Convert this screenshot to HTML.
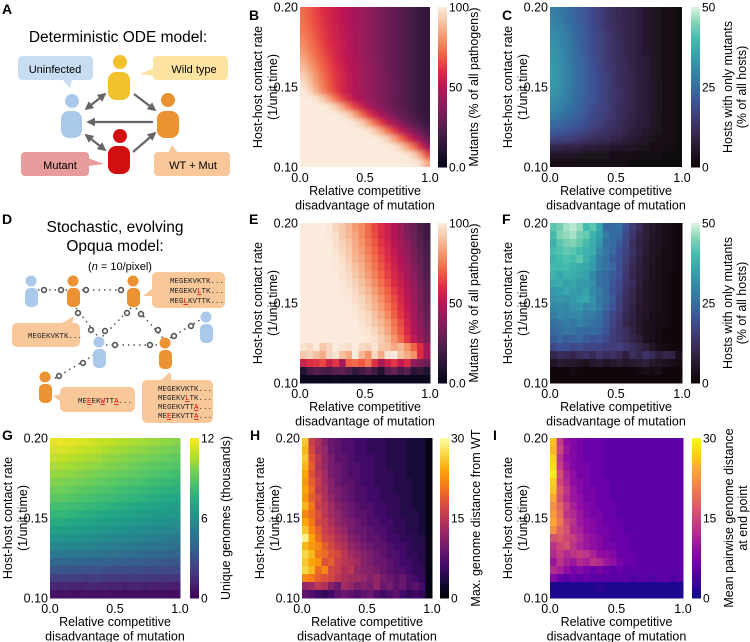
<!DOCTYPE html>
<html><head><meta charset="utf-8"><style>
html,body{margin:0;padding:0;background:#fff;}
svg{display:block;font-family:"Liberation Sans",sans-serif;}
.mono{font-family:"Liberation Mono",monospace;}
</style></head><body>
<svg id="fig" width="750" height="642" viewBox="0 0 750 642" xmlns="http://www.w3.org/2000/svg">
<defs>
<marker id="ah" viewBox="0 0 10 10" refX="8" refY="5" markerWidth="4" markerHeight="4" orient="auto-start-reverse"><path d="M0,0L10,5L0,10z" fill="#666"/></marker>
<filter id="smooth" x="-0.2" y="-0.2" width="1.4" height="1.4"><feGaussianBlur stdDeviation="2.5"/></filter>
<clipPath id="clipB"><rect x="300" y="7" width="130" height="160"/></clipPath>
<clipPath id="clipC"><rect x="550" y="7" width="132" height="160"/></clipPath>
</defs>
<!-- Panel A -->
<g>
<text x="2" y="14" font-size="14" font-weight="bold">A</text>
<text x="118" y="42" font-size="15.5" text-anchor="middle">Deterministic ODE model:</text>
<g><rect x="18" y="56" width="75" height="24" rx="4" fill="#c9ddf2"/><path d="M62,79 L72,79 L70,88z" fill="#c9ddf2"/><text x="55" y="73" font-size="11" text-anchor="middle">Uninfected</text></g>
<g><rect x="153" y="56" width="75" height="24" rx="4" fill="#fde3a2"/><path d="M154,68 L154,76 L140,74z" fill="#fde3a2"/><text x="194" y="73" font-size="11" text-anchor="middle">Wild type</text></g>
<g><rect x="21" y="152" width="68" height="24" rx="4" fill="#e89b9b"/><path d="M88,158 L88,166 L104,164z" fill="#e89b9b"/><text x="60" y="169" font-size="11" text-anchor="middle">Mutant</text></g>
<g><rect x="154" y="152" width="76" height="24" rx="4" fill="#f8c89b"/><path d="M168,153 L178,153 L172,145z" fill="#f8c89b"/><text x="193" y="169" font-size="11" text-anchor="middle">WT + Mut</text></g>
<g fill="#a9c8ea"><circle cx="72" cy="101" r="7"/><rect x="61" y="111" width="21" height="27" rx="8"/></g>
<g fill="#f2c12e"><circle cx="120" cy="62" r="7"/><rect x="108" y="72" width="22" height="28" rx="8"/></g>
<g fill="#eb9232"><circle cx="168" cy="100" r="7"/><rect x="157" y="111" width="22" height="27" rx="8"/></g>
<g fill="#d20f0f"><circle cx="120" cy="136" r="7"/><rect x="108" y="146" width="22" height="28" rx="8"/></g>
<g stroke="#666" stroke-width="2.2" fill="none">
<line x1="105" y1="94" x2="86" y2="109" marker-start="url(#ah)" marker-end="url(#ah)"/>
<line x1="86" y1="135" x2="105" y2="150" marker-start="url(#ah)" marker-end="url(#ah)"/>
<line x1="134" y1="94" x2="155" y2="110" marker-end="url(#ah)"/>
<line x1="133" y1="152" x2="155" y2="133" marker-end="url(#ah)"/>
<line x1="153" y1="122" x2="88" y2="122" marker-end="url(#ah)"/>
</g>
</g>
<!-- Panel D -->
<g>
<text x="2" y="224" font-size="14" font-weight="bold">D</text>
<text x="115" y="232" font-size="15.5" text-anchor="middle">Stochastic, evolving</text>
<text x="115" y="251" font-size="15.5" text-anchor="middle">Opqua model:</text>
<text x="120" y="270" font-size="11" text-anchor="middle">(<tspan font-style="italic">n</tspan> = 10/pixel)</text>
<g stroke="#555" stroke-width="1.6" stroke-dasharray="1.5 4" fill="none">
<line x1="38" y1="290" x2="68" y2="290"/><line x1="82" y1="290" x2="126" y2="290"/>
<line x1="76" y1="308" x2="99" y2="338"/><line x1="131" y1="308" x2="101" y2="338"/>
<line x1="136" y1="308" x2="163" y2="338"/><line x1="106" y1="345" x2="158" y2="345"/>
<line x1="170" y1="338" x2="200" y2="320"/><line x1="94" y1="355" x2="52" y2="380"/>
</g>
<g fill="#fff" stroke="#555" stroke-width="1.6">
<circle cx="44" cy="290" r="2.4"/><circle cx="61" cy="290" r="2.4"/><circle cx="86" cy="290" r="2.4"/><circle cx="121" cy="290" r="2.4"/>
<circle cx="78" cy="313" r="2.4"/><circle cx="91" cy="330" r="2.4"/><circle cx="105" cy="331" r="2.4"/><circle cx="127" cy="313" r="2.4"/>
<circle cx="141" cy="314" r="2.4"/><circle cx="115" cy="345" r="2.4"/><circle cx="150" cy="345" r="2.4"/><circle cx="191" cy="326" r="2.4"/><circle cx="174" cy="336" r="2.4"/>
<circle cx="83" cy="363" r="2.4"/><circle cx="59" cy="376" r="2.4"/><circle cx="158" cy="330" r="2.4"/>
</g>
<g fill="#a9c8ea"><circle cx="31" cy="281" r="5.5"/><rect x="25" y="288" width="13" height="19" rx="5"/></g>
<g fill="#eb9232"><circle cx="73" cy="281" r="5.5"/><rect x="67" y="288" width="13" height="19" rx="5"/></g>
<g fill="#eb9232"><circle cx="133" cy="281" r="5.5"/><rect x="127" y="288" width="13" height="19" rx="5"/></g>
<g fill="#a9c8ea"><circle cx="206" cy="317" r="5.5"/><rect x="200" y="324" width="13" height="19" rx="5"/></g>
<g fill="#a9c8ea"><circle cx="99" cy="342" r="5.5"/><rect x="93" y="349" width="13" height="19" rx="5"/></g>
<g fill="#eb9232"><circle cx="165" cy="343" r="5.5"/><rect x="159" y="350" width="13" height="19" rx="5"/></g>
<g fill="#eb9232"><circle cx="45" cy="377" r="5.5"/><rect x="39" y="384" width="13" height="19" rx="5"/></g>
<g class="mono" font-size="7.5" fill="#222">
<g><rect x="152" y="272" width="73" height="36" rx="5" fill="#f8c89b"/><path d="M153,288 L153,296 L143,296z" fill="#f8c89b"/>
<text x="170" y="283">MEGEKVKTK...</text><text x="170" y="293">MEGEKV<tspan fill="#d00" text-decoration="underline">L</tspan>TK...</text><text x="170" y="303">MEG<tspan fill="#d00" text-decoration="underline">L</tspan>KVTTK...</text></g>
<g><rect x="12" y="323" width="68" height="24" rx="5" fill="#f8c89b"/><path d="M60,324 L72,324 L74,316z" fill="#f8c89b"/><text x="28" y="338">MEGEKVKTK...</text></g>
<g><rect x="60" y="387" width="75" height="25" rx="5" fill="#f8c89b"/><path d="M61,394 L61,402 L53,396z" fill="#f8c89b"/><text x="78" y="403">ME<tspan fill="#d00" text-decoration="underline">E</tspan>EK<tspan fill="#d00" text-decoration="underline">W</tspan>TT<tspan fill="#d00" text-decoration="underline">A</tspan>...</text></g>
<g><rect x="142" y="380" width="71" height="43" rx="5" fill="#f8c89b"/><path d="M160,381 L172,381 L170,372z" fill="#f8c89b"/>
<text x="158" y="391">MEGEKVKTK...</text><text x="158" y="400">MEGEKV<tspan fill="#d00" text-decoration="underline">L</tspan>TK...</text><text x="158" y="409">MEGEKVTT<tspan fill="#d00" text-decoration="underline">A</tspan>...</text><text x="158" y="418">ME<tspan fill="#d00" text-decoration="underline">E</tspan>EKVTT<tspan fill="#d00" text-decoration="underline">A</tspan>...</text></g>
</g>
</g>
<g id="charts"></g>
</svg>
<script>
// ---------- DATA (rows: top = 0.20, bottom = 0.10; columns: x = 0 .. 1) ----------
const xTicks = ["0.0","0.5","1.0"];
const yTicks = ["0.20","0.15","0.10"];
const bValues = [
[72,68,64,60,57,54,51,48,45,42,40,37,34,31,28,25,22,19,16,14],
[73,69,65,61,57,54,51,48,45,42,40,37,34,31,28,25,22,19,16,14],
[74,70,66,62,58,55,52,48,45,42,40,37,34,31,28,25,22,19,16,14],
[76,72,67,63,59,55,52,49,46,43,40,37,34,31,28,25,22,19,16,14],
[78,74,69,64,60,56,53,49,46,43,40,37,34,31,28,25,22,19,16,14],
[81,76,71,66,61,57,53,50,46,43,40,37,34,31,28,25,22,19,16,14],
[85,79,73,68,63,58,54,50,47,43,40,37,34,31,28,25,22,19,16,14],
[89,83,76,70,65,60,55,51,47,44,41,38,35,31,28,25,22,19,16,14],
[93,87,80,73,67,62,57,52,48,44,41,38,35,32,28,25,22,19,16,14],
[97,90,82,75,68,62,57,52,48,44,41,38,35,32,29,25,22,19,16,14],
[100,95,86,77,69,63,57,52,48,44,41,38,35,32,29,26,22,19,16,14],
[100,100,98,92,83,73,64,57,51,46,42,38,35,32,28,25,22,19,16,14],
[100,100,100,100,98,93,83,72,63,55,48,42,37,33,29,26,22,19,16,14],
[100,100,100,100,100,100,98,93,83,72,62,53,46,40,34,29,25,21,17,15],
[100,100,100,100,100,100,100,100,98,93,83,72,62,52,44,37,31,26,21,16],
[100,100,100,100,100,100,100,100,100,100,98,93,83,72,62,52,43,36,29,22],
[100,100,100,100,100,100,100,100,100,100,100,100,98,93,83,72,61,50,40,30],
[100,100,100,100,100,100,100,100,100,100,100,100,100,100,98,93,83,72,58,42],
[100,100,100,100,100,100,100,100,100,100,100,100,100,100,100,100,98,93,82,65],
[100,100,100,100,100,100,100,100,100,100,100,100,100,100,100,100,100,100,97,85]];
const cValues = [
[28,27,26,24,22,20,18,16,14,12,11,10,9,8,6,5,4,3,2,1],
[29,28,26,24,22,20,18,16,14,12,11,10,9,8,6,5,4,3,2,1],
[30,29,27,25,23,21,18,16,14,13,11,10,9,8,6,5,4,3,2,1],
[31,30,28,25,23,21,19,17,15,13,11,10,9,8,6,5,4,3,2,1],
[32,30,28,26,23,21,19,17,15,13,12,10,9,8,6,5,4,3,2,1],
[33,31,29,26,24,21,19,17,15,13,12,10,9,8,6,5,4,3,2,1],
[33,31,29,26,24,22,19,17,15,13,12,11,9,8,7,5,4,3,2,1],
[34,32,29,27,24,22,20,17,15,14,12,11,9,8,7,5,4,3,2,1],
[34,32,29,27,24,22,20,18,16,14,12,11,10,8,7,5,4,3,2,1],
[34,32,29,27,24,22,20,18,16,14,12,11,10,8,7,6,4,3,2,1],
[33,31,29,26,24,22,20,18,16,14,13,11,10,8,7,6,4,3,2,1],
[32,30,28,26,24,22,20,18,16,14,13,11,10,8,7,6,4,3,2,1],
[30,29,27,25,23,21,19,17,16,14,12,11,10,8,7,6,4,3,2,1],
[28,27,25,24,22,20,18,17,15,14,12,11,9,8,7,5,4,3,2,1],
[25,24,23,22,20,19,17,16,14,13,12,10,9,8,7,5,4,3,2,1],
[22,21,20,19,18,17,15,14,13,12,11,10,8,7,6,5,4,3,2,1],
[17,16,16,15,14,13,12,11,11,10,9,8,7,6,5,4,3,2,2,1],
[10,10,9,9,9,8,8,7,7,6,6,5,5,4,4,3,3,2,2,1],
[5,5,5,5,4,4,4,4,4,3,3,3,3,3,2,2,2,1,1,1],
[2,2,2,2,2,2,2,2,2,2,2,2,1,1,1,1,1,1,1,1]];
const eValues = [
[100,100,100,100,99,95,92,88,82,78,72,65,60,55,48,42,35,30,22,18],
[100,100,100,100,99,97,92,88,84,78,72,66,60,55,48,42,35,30,24,18],
[100,100,100,100,100,97,94,90,85,80,74,68,62,56,50,44,38,32,26,20],
[100,100,100,100,100,98,95,92,86,82,76,70,64,58,52,46,40,34,27,20],
[100,100,100,100,100,99,97,93,88,84,78,72,66,60,54,48,42,35,28,22],
[100,100,100,100,100,99,98,95,90,86,80,74,68,62,56,50,44,37,30,22],
[100,100,100,100,100,100,98,96,92,88,82,76,70,64,58,52,45,38,30,24],
[100,100,100,100,100,100,99,97,94,90,85,79,73,67,60,54,47,40,32,25],
[100,100,100,100,100,100,99,98,96,92,88,82,76,70,63,56,49,42,34,26],
[100,100,100,100,100,100,100,99,97,95,90,85,79,72,66,58,50,42,34,26],
[100,100,100,100,100,100,100,100,98,96,92,87,82,75,68,60,52,44,35,28],
[100,100,100,100,100,100,100,100,99,97,95,90,85,78,70,62,54,45,36,28],
[100,100,100,100,100,100,100,100,100,98,96,92,88,82,74,66,56,46,38,30],
[100,100,100,100,100,100,100,100,100,99,98,95,90,84,76,68,58,48,40,32],
[100,100,100,100,100,100,100,100,100,100,99,97,93,88,80,72,62,52,42,34],
[98,96,100,92,95,100,98,97,100,96,94,98,92,90,85,88,80,70,60,45],
[92,95,90,85,95,98,90,85,100,88,80,95,85,98,100,90,85,80,60,45],
[55,60,62,65,55,62,45,70,72,68,75,60,45,55,62,52,60,40,35,30],
[10,20,25,22,20,25,28,22,15,20,25,18,10,25,30,20,25,12,15,10],
[2,2,3,2,2,3,2,2,2,3,2,2,2,3,2,2,2,2,2,2]];
const fValues = [
[42,44,47,48,46,40,42,36,25,24,26,20,15,12,8,6,4,3,2,1],
[40,45,46,47,44,43,38,35,28,25,24,18,14,10,8,5,4,3,2,1],
[38,42,44,45,43,40,37,33,26,25,22,18,12,9,7,5,4,3,2,1],
[40,41,43,42,40,38,37,30,27,24,20,17,13,10,7,5,4,2,2,1],
[38,40,41,40,42,38,35,28,26,22,20,16,12,9,6,5,3,2,2,1],
[40,39,40,38,37,36,34,28,27,24,19,15,11,8,6,4,3,2,2,1],
[38,36,38,37,36,35,30,26,24,22,20,14,10,8,6,4,3,2,1,1],
[36,37,35,36,34,33,32,26,25,21,18,14,12,8,5,4,3,2,1,1],
[33,34,36,34,33,35,30,28,24,20,18,13,10,7,5,4,3,2,1,1],
[32,33,32,33,35,36,32,27,25,22,16,12,10,7,5,4,3,2,1,1],
[30,31,30,32,33,30,31,28,24,20,16,12,9,6,5,4,3,2,1,1],
[28,30,29,30,31,28,28,26,22,18,15,11,9,6,5,3,2,2,1,1],
[26,27,28,27,29,27,26,25,21,17,14,10,8,6,4,3,2,2,1,1],
[24,25,27,26,25,24,25,23,20,16,14,12,9,6,4,3,2,1,1,1],
[22,24,22,23,24,22,20,21,18,16,14,12,10,8,4,3,2,1,1,1],
[18,20,20,18,19,17,18,17,16,15,16,14,12,10,8,5,3,2,1,1],
[10,12,11,10,12,13,11,14,12,13,11,8,12,10,13,11,8,10,9,3],
[5,7,6,6,5,4,6,7,5,6,7,5,6,7,8,6,5,4,3,2],
[1,1,1,2,1,1,1,1,1,1,1,1,1,2,3,2,3,1,1,1],
[1,1,1,1,1,1,1,1,1,1,1,1,1,1,1,1,1,1,1,1]];
const gValues = [
[11.6,11.7,11.6,11.5,11.4,11.3,11.1,11.0,10.9,10.8,10.7,10.6,10.5,10.4,10.3,10.2,10.1,10.0,9.9,9.8],
[11.3,11.3,11.2,11.1,11.0,10.9,10.8,10.7,10.5,10.4,10.3,10.2,10.1,10.0,9.9,9.8,9.7,9.6,9.5,9.4],
[10.9,10.9,10.8,10.7,10.6,10.5,10.4,10.3,10.1,10.0,9.9,9.8,9.7,9.6,9.5,9.4,9.3,9.2,9.1,9.0],
[10.5,10.5,10.4,10.3,10.2,10.1,10.0,9.9,9.8,9.7,9.6,9.5,9.3,9.2,9.1,9.0,8.9,8.8,8.8,8.7],
[10.1,10.1,10.0,9.9,9.8,9.7,9.6,9.5,9.4,9.3,9.2,9.1,9.0,8.9,8.8,8.7,8.6,8.5,8.4,8.3],
[9.7,9.7,9.6,9.5,9.4,9.3,9.2,9.1,9.0,8.9,8.8,8.7,8.6,8.5,8.4,8.3,8.2,8.1,8.0,7.9],
[9.3,9.3,9.2,9.1,9.0,8.9,8.8,8.7,8.6,8.5,8.4,8.3,8.2,8.1,8.0,7.9,7.8,7.7,7.6,7.5],
[8.9,8.9,8.8,8.7,8.6,8.5,8.4,8.3,8.2,8.1,8.0,7.9,7.8,7.7,7.6,7.5,7.4,7.3,7.2,7.1],
[8.4,8.4,8.3,8.2,8.1,8.0,7.9,7.8,7.7,7.6,7.5,7.4,7.3,7.2,7.1,7.0,6.9,6.8,6.8,6.7],
[7.9,7.9,7.8,7.7,7.6,7.5,7.4,7.3,7.2,7.1,7.0,6.9,6.9,6.8,6.7,6.6,6.5,6.4,6.4,6.3],
[7.4,7.4,7.3,7.2,7.1,7.0,6.9,6.8,6.8,6.7,6.6,6.5,6.4,6.3,6.2,6.1,6.1,6.0,5.9,5.9],
[6.8,6.8,6.7,6.7,6.6,6.5,6.4,6.3,6.2,6.1,6.1,6.0,5.9,5.8,5.7,5.7,5.6,5.5,5.5,5.4],
[6.2,6.2,6.1,6.1,6.0,5.9,5.8,5.8,5.7,5.6,5.5,5.5,5.4,5.3,5.2,5.2,5.1,5.0,5.0,4.9],
[5.6,5.6,5.5,5.5,5.4,5.3,5.3,5.2,5.1,5.1,5.0,4.9,4.9,4.8,4.7,4.7,4.6,4.6,4.5,4.4],
[4.9,4.9,4.8,4.8,4.7,4.7,4.6,4.6,4.5,4.4,4.4,4.3,4.3,4.2,4.1,4.1,4.0,4.0,3.9,3.9],
[4.1,4.0,4.0,4.0,3.9,3.9,3.8,3.8,3.7,3.7,3.6,3.6,3.5,3.5,3.5,3.4,3.4,3.3,3.3,3.2],
[3.2,3.1,3.2,3.0,3.1,3.0,2.9,3.0,2.9,2.8,2.9,2.8,2.7,2.8,2.7,2.6,2.7,2.6,2.5,2.6],
[2.2,2.3,2.1,2.2,2.2,2.0,2.1,2.2,2.0,2.1,2.0,1.9,2.1,2.0,1.9,2.0,1.9,1.8,1.9,1.8],
[1.3,1.2,1.3,1.2,1.1,1.2,1.3,1.1,1.2,1.1,1.2,1.0,1.1,1.2,1.0,1.1,1.0,1.1,1.0,1.0],
[0.6,0.5,0.6,0.5,0.5,0.6,0.5,0.5,0.6,0.5,0.5,0.4,0.5,0.5,0.4,0.5,0.4,0.5,0.4,0.4]];
const hValues = [
[26,16,14,11,9,8,7,7,6,6,5,5,5,4,4,4,3,3,3,1],
[25,17,13,12,9,8,7,7,6,6,5,5,5,4,4,4,3,3,3,1],
[26,18,15,12,10,8,8,7,6,6,6,5,5,4,4,4,3,3,3,1],
[25,19,14,12,10,9,8,7,7,6,6,5,5,4,4,4,3,3,3,1],
[24,18,15,13,10,9,8,7,7,6,6,5,5,5,4,4,3,3,3,1],
[23,19,16,13,11,9,8,8,7,6,6,5,5,5,4,4,4,3,3,1],
[24,20,15,14,11,10,9,8,7,7,6,6,5,5,4,4,4,3,3,1],
[23,19,17,14,12,10,9,8,7,7,6,6,5,5,5,4,4,3,3,1],
[25,21,16,15,13,11,10,9,8,7,7,6,6,5,5,4,4,3,3,1],
[22,20,18,15,13,12,10,9,8,8,7,6,6,5,5,4,4,4,3,1],
[24,21,17,16,14,12,11,10,9,8,7,7,6,6,5,5,4,4,3,1],
[26,22,19,16,15,13,12,10,9,9,8,7,7,6,5,5,4,4,3,1],
[29,24,20,17,16,14,13,11,10,9,8,8,7,6,6,5,5,4,4,1],
[25,23,22,19,17,15,14,12,11,10,9,8,8,7,6,6,5,4,4,1],
[27,25,21,20,18,17,15,13,12,11,10,9,8,7,7,6,5,5,4,1],
[26,24,23,18,19,16,15,14,13,11,10,9,9,8,7,6,6,5,4,1],
[27,25,20,22,17,16,14,15,12,11,11,10,9,8,7,7,6,5,5,1],
[22,21,19,18,17,15,14,13,13,12,11,12,10,9,8,9,7,6,5,1],
[12,13,15,14,11,9,13,12,10,11,10,12,9,10,8,9,7,8,6,1],
[8,7,6,5,6,8,9,8,7,8,9,7,6,7,8,6,5,6,5,1]];
const iValues = [
[26,14,9,8,7,6,6,6,5,5,5,5,5,5,5,5,5,5,5,5],
[25,15,10,8,7,6,6,6,5,5,5,5,5,5,5,5,5,5,5,5],
[27,13,9,8,7,6,6,6,5,5,5,5,5,5,5,5,5,5,5,5],
[28,14,10,8,7,7,6,6,5,5,5,5,5,5,5,5,5,5,5,5],
[29,16,11,9,7,7,6,6,5,5,5,5,5,5,5,5,5,5,5,5],
[27,15,12,9,8,7,6,6,6,5,5,5,5,5,5,5,5,5,5,5],
[26,17,13,10,8,7,7,6,6,5,5,5,5,5,5,5,5,5,5,5],
[24,16,12,10,9,7,7,6,6,5,5,5,5,5,5,5,5,5,5,5],
[22,18,14,11,9,8,7,6,6,6,5,5,5,5,5,5,5,5,5,5],
[23,19,13,12,10,8,7,7,6,6,5,5,5,5,5,5,5,5,5,5],
[24,20,15,13,10,9,8,7,6,6,6,5,5,5,5,5,5,5,5,5],
[22,18,16,12,11,9,8,7,7,6,6,5,5,5,5,5,5,5,5,5],
[16,17,15,14,12,10,9,8,7,6,6,6,5,5,5,5,5,5,5,5],
[13,15,16,13,11,10,9,8,7,7,6,6,5,5,5,5,5,5,5,5],
[12,14,12,13,14,13,11,9,9,8,6,6,6,5,5,5,5,5,5,5],
[10,13,11,10,12,11,13,12,10,9,7,6,6,5,5,5,5,5,5,5],
[12,11,9,7,8,7,6,7,6,5,6,5,5,5,5,5,5,5,5,5],
[8,6,5,6,5,6,5,5,5,5,5,5,4,5,5,4,5,5,4,5],
[1,1,1,1,1,1,1,2,1,1,1,1,1,1,1,1,1,1,1,1],
[1,1,1,1,1,1,1,1,1,1,1,1,1,1,1,1,1,1,1,1]];
const bTicks = ["100","50","0.0"];
const cTicks = ["50","25","0"];
const gTicks = ["12","6","0"];
const hTicks = ["30","15","0"];

// ---------- colormaps ----------
const CM = {
 rocket:["#03051a","#221331","#451c47","#6a1f56","#921c5b","#b91657","#dd2c45","#f06043","#f5936a","#f6c19f","#faebdd"],
 mako:["#0b0405","#231526","#35264c","#403a75","#3d5296","#366da0","#3487a6","#35a1ab","#43bbad","#81d3b3","#def5e5"],
 viridis:["#440154","#482475","#414487","#355f8d","#2a788e","#21918c","#22a884","#44bf70","#7ad151","#bddf26","#fde725"],
 inferno:["#000004","#160b39","#420a68","#6a176e","#932667","#bc3754","#dd513a","#f37819","#fca50a","#f6d746","#fcffa4"],
 plasma:["#0d0887","#41049d","#6a00a8","#8f0da4","#b12a90","#cc4778","#e16462","#f2844b","#fca636","#fcce25","#f0f921"]
};
function hex(h){return [1,3,5].map(i=>parseInt(h.substr(i,2),16));}
function cmap(name,t){
 const s=CM[name]; t=Math.max(0,Math.min(1,t)); const p=t*(s.length-1); const i=Math.min(s.length-2,Math.floor(p)); const f=p-i;
 const a=hex(s[i]),b=hex(s[i+1]); return "rgb("+a.map((v,k)=>Math.round(v+(b[k]-v)*f)).join(",")+")";
}
const NS="http://www.w3.org/2000/svg";
const root=document.getElementById("charts");
function mk(tag,attrs,parent){const e=document.createElementNS(NS,tag);for(const k in attrs)e.setAttribute(k,attrs[k]);(parent||root).appendChild(e);return e;}

function panel(p){
 const g=mk("g",{});
 
 
 const rows=p.data.length, cols=p.data[0].length;
 const w=p.x1-p.x0, h=p.y1-p.y0;
 const xs=c=>p.x0+c*w/cols, ys=r=>p.y0+r*h/rows;
 const clipG=mk("g",p.clip?{"clip-path":"url(#"+p.clip+")"}:{},g);
 const cells=mk("g",p.clip?{filter:"url(#smooth)"}:{},clipG);
 
 
 const pad=p.clip?8:0;
 for(let r=0;r<rows;r++)for(let c=0;c<cols;c++){
  let x=xs(c), y=ys(r), cw=w/cols+0.5, ch=h/rows+0.5;
  if(c===0){x-=pad;cw+=pad;} if(c===cols-1){cw+=pad;}
  if(r===0){y-=pad;ch+=pad;} if(r===rows-1){ch+=pad;}
  const rc=mk("rect",{x:x.toFixed(2),y:y.toFixed(2),width:cw.toFixed(2),height:ch.toFixed(2),fill:cmap(p.cm,p.data[r][c]/p.vmax)},cells);
  
  
 }
 const L=mk("text",{x:p.lx,y:p.ly,"font-size":14,"font-weight":"bold"},g); L.textContent=p.id.toUpperCase();
 
 
 yTicks.forEach((t,i)=>{const e=mk("text",{x:p.x0-2,y:p.y0+i*h/2+4.5,"font-size":12.5,"text-anchor":"end"},g);e.textContent=t;
  
  });
 xTicks.forEach((t,i)=>{const e=mk("text",{x:p.x0+i*w/2,y:p.y1+15,"font-size":12.5,"text-anchor":"middle"},g);e.textContent=t;
  
  });
 const yt=mk("text",{transform:`translate(${p.x0-38},${(p.y0+p.y1)/2}) rotate(-90)`,"font-size":12.5,"text-anchor":"middle"},g);
 yt.innerHTML='<tspan x="0" y="0">Host-host contact rate</tspan><tspan x="0" y="15">(1/unit time)</tspan>';
 
 
 const xt=mk("text",{x:(p.x0+p.x1)/2,y:p.y1+28,"font-size":12.5,"text-anchor":"middle"},g);
 xt.innerHTML=`<tspan x="${(p.x0+p.x1)/2}">Relative competitive</tspan><tspan x="${(p.x0+p.x1)/2}" dy="14.5">disadvantage of mutation</tspan>`;
 
 
 const cb=mk("g",{},g);
 
 
 const N=60;
 for(let k=0;k<N;k++){mk("rect",{x:p.cx,y:(p.y0+k*h/N).toFixed(2),width:9,height:(h/N+0.5).toFixed(2),fill:cmap(p.cm,1-(k+0.5)/N)},cb);}
 p.ticks.forEach((t,i)=>{const e=mk("text",{x:p.cx+11,y:p.y0+i*h/2+4.5,"font-size":12},cb);e.textContent=t;
  
  });
 const ct=mk("text",{transform:`translate(${p.cx+(p.title2?41:40)},${(p.y0+p.y1)/2}) rotate(-90)`,"font-size":12.5,"text-anchor":"middle"},cb);
 ct.innerHTML=`<tspan x="0" y="0">${p.title}</tspan>`+(p.title2?`<tspan x="0" y="14">${p.title2}</tspan>`:"");
 
 
}
panel({id:"b",data:bValues,cm:"rocket",vmax:100,x0:300,x1:430,y0:7,y1:167,cx:438,lx:249,ly:20,ticks:bTicks,title:"Mutants (% of all pathogens)",clip:"clipB"});
panel({id:"c",data:cValues,cm:"mako",vmax:50,x0:550,x1:682,y0:7,y1:167,cx:691,lx:502,ly:20,ticks:cTicks,title:"Hosts with only mutants",title2:"(% of all hosts)",clip:"clipC"});
panel({id:"e",data:eValues,cm:"rocket",vmax:100,x0:300,x1:430,y0:223,y1:383,cx:438,lx:249,ly:224,ticks:bTicks,title:"Mutants (% of all pathogens)"});
panel({id:"f",data:fValues,cm:"mako",vmax:50,x0:550,x1:682,y0:223,y1:383,cx:691,lx:502,ly:224,ticks:cTicks,title:"Hosts with only mutants",title2:"(% of all hosts)"});
panel({id:"g",data:gValues,cm:"viridis",vmax:12,x0:50,x1:180,y0:438,y1:598,cx:190,lx:2,ly:440,ticks:gTicks,title:"Unique genomes (thousands)"});
panel({id:"h",data:hValues,cm:"inferno",vmax:30,x0:302,x1:432,y0:438,y1:598,cx:440,lx:250,ly:440,ticks:hTicks,title:"Max. genome distance from WT"});
panel({id:"i",data:iValues,cm:"plasma",vmax:30,x0:550,x1:683,y0:438,y1:598,cx:692,lx:493,ly:440,ticks:hTicks,title:"Mean pairwise genome distance",title2:"at end point"});
</script>
</body></html>
